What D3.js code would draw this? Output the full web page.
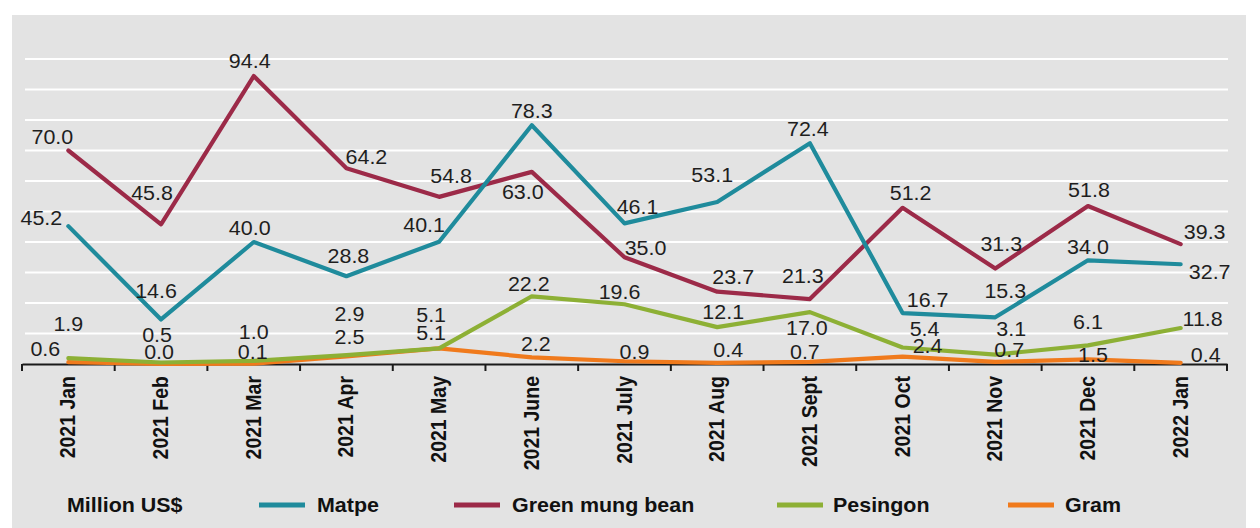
<!DOCTYPE html>
<html>
<head>
<meta charset="utf-8">
<script src="https://cdn.jsdelivr.net/npm/d3@7"></script>
<style>
  html, body { margin: 0; padding: 0; background: #ffffff; }
  svg { display: block; font-family: "Liberation Sans", Arial, sans-serif; }
</style>
</head>
<body>
<svg id="chart" width="1260" height="528"></svg>
<script>
// ---- data ----
const categories = ["2021 Jan", "2021 Feb", "2021 Mar", "2021 Apr", "2021 May", "2021 June", "2021 July",
                    "2021 Aug", "2021 Sept", "2021 Oct", "2021 Nov", "2021 Dec", "2022 Jan"];
const matpe       = [45.2, 14.6, 40.0, 28.8, 40.1, 78.3, 46.1, 53.1, 72.4, 16.7, 15.3, 34.0, 32.7];
const greenMung   = [70.0, 45.8, 94.4, 64.2, 54.8, 63.0, 35.0, 23.7, 21.3, 51.2, 31.3, 51.8, 39.3];
const pesingon    = [1.9, 0.5, 1.0, 2.9, 5.1, 22.2, 19.6, 12.1, 17.0, 5.4, 3.1, 6.1, 11.8];
const gram        = [0.6, 0.0, 0.1, 2.5, 5.1, 2.2, 0.9, 0.4, 0.7, 2.4, 0.7, 1.5, 0.4];
const seriesNames = ["Matpe", "Green mung bean", "Pesingon", "Gram"];
const yTicks      = [0, 10, 20, 30, 40, 50, 60, 70, 80, 90, 100];
const unitLabel   = "Million US$";

// ---- label placement offsets (pixels, relative to each point) ----
const matpeOff = [[-27,-8],[-5,-29],[-4,-14],[2,-20],[-15,-17],[0,-14],[13,-16],[-5,-27],[-2,-14],[25,-13],[10,-26],[0,-13],[29,8]];
const mungOff  = [[-16,-14],[-9,-31],[-4,-15],[20,-11],[12,-21],[-9,20],[21,-9],[16,-15],[-7,-23],[8,-15],[6,-25],[1,-16],[24,-12]];
const pesOff   = [[0,-34],[-4,-28],[0,-29],[3,-41],[-8,-33],[-3,-12],[-5,-12],[6,-15],[-3,16],[22,-19],[16,-26],[0,-23],[22,-9]];
const gramOff  = [[-23,-13],[-2,-12],[-1,-12],[3,-19],[-8,-15],[4,-13],[10,-9],[11,-13],[-5,-10],[25,-11],[14,-12],[5,-4],[25,-8]];

const colors = ["#1f8b9c", "#9c2a48", "#8db035", "#f07a1c"];

const series = [
  { name: seriesNames[0], values: matpe, off: matpeOff, color: colors[0] },
  { name: seriesNames[1], values: greenMung, off: mungOff, color: colors[1] },
  { name: seriesNames[2], values: pesingon, off: pesOff, color: colors[2] },
  { name: seriesNames[3], values: gram, off: gramOff, color: colors[3] }
];

// ---- layout ----
const svg = d3.select("#chart");
const SX = 1.1; // horizontal stretch of the text in the reference
const fontSize = 19.5;

// panel background
svg.append("rect").attr("x", 12).attr("y", 15).attr("width", 1234).attr("height", 520)
  .attr("fill", "#e3e3e3");

const x = d3.scaleBand().domain(categories).range([22, 1227]).padding(0);
const y = d3.scaleLinear().domain([0, 100]).range([364, 59]);
const cx = c => x(c) + x.bandwidth() / 2;

// gridlines
svg.append("g").selectAll("line").data(yTicks.filter(t => t > 0)).join("line")
  .attr("x1", 25).attr("x2", 1228)
  .attr("y1", d => y(d)).attr("y2", d => y(d))
  .attr("stroke", "#ffffff").attr("stroke-width", 2.2);

// x axis
const xAxis = d3.axisBottom(x).tickSize(0).tickFormat("");
const gx = svg.append("g").attr("transform", `translate(0,${y(0)})`).call(xAxis);
gx.select(".domain").attr("stroke", "#1a1a1a").attr("stroke-width", 2);
// tick marks on band boundaries
const bounds = categories.map(c => x(c)).concat([x.range()[1]]);
svg.append("g").selectAll("line").data(bounds).join("line")
  .attr("x1", d => d).attr("x2", d => d)
  .attr("y1", y(0)).attr("y2", y(0) + 7)
  .attr("stroke", "#1a1a1a").attr("stroke-width", 2);

// category labels (rotated)
svg.append("g").selectAll("text").data(categories).join("text")
  .attr("transform", d => `translate(${cx(d) + 7},${y(0) + 12}) scale(${SX},1) rotate(-90)`)
  .attr("text-anchor", "end")
  .attr("font-size", fontSize)
  .attr("font-weight", "bold")
  .attr("fill", "#111")
  .text(d => d);

// lines
const line = d3.line().x((d, i) => cx(categories[i])).y(d => y(d));
// draw order: Gram, Pesingon, Green mung bean, Matpe? Use reference-like: matpe over mung at crossing
const drawOrder = [3, 2, 1, 0];
drawOrder.forEach(k => {
  const s = series[k];
  svg.append("path").datum(s.values)
    .attr("d", line)
    .attr("fill", "none")
    .attr("stroke", s.color)
    .attr("stroke-width", 4.2)
    .attr("stroke-linejoin", "round")
    .attr("stroke-linecap", "round");
});

// data labels
series.forEach(s => {
  svg.append("g").selectAll("text").data(s.values).join("text")
    .attr("transform", (d, i) => `translate(${cx(categories[i]) + s.off[i][0]},${y(d) + s.off[i][1]}) scale(${SX},1)`)
    .attr("dy", "0.36em")
    .attr("text-anchor", "middle")
    .attr("font-size", fontSize)
    .attr("fill", "#1e1e1e")
    .text(d => d.toFixed(1));
});

// legend
const legY = 505;
svg.append("text")
  .attr("transform", `translate(67,${legY}) scale(${SX},1)`)
  .attr("dy", "0.36em")
  .attr("font-size", fontSize).attr("font-weight", "bold").attr("fill", "#111")
  .text(unitLabel);
const legX = [[259, 317], [454, 512], [777, 833], [1008, 1065]];
series.forEach((s, i) => {
  svg.append("line")
    .attr("x1", legX[i][0]).attr("x2", legX[i][0] + 46)
    .attr("y1", legY).attr("y2", legY)
    .attr("stroke", s.color).attr("stroke-width", 5);
  svg.append("text")
    .attr("transform", `translate(${legX[i][1]},${legY}) scale(${SX},1)`)
    .attr("dy", "0.36em")
    .attr("font-size", fontSize).attr("font-weight", "bold").attr("fill", "#111")
    .text(s.name);
});
</script>
</body>
</html>
